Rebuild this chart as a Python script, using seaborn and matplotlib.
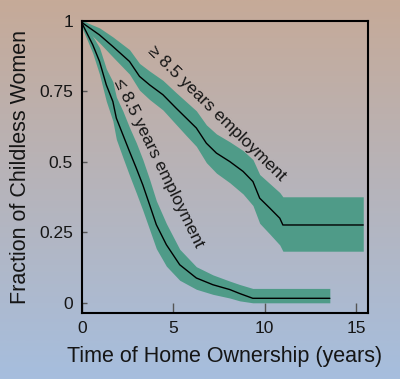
import numpy as np
import seaborn as sns
import matplotlib.pyplot as plt

# ---- data (Kaplan-Meier curves + 95% bands) ----
# >= 8.5 years employment
t_long = [0, 0.04, 0.96, 1.69, 2.60, 3.15, 3.70, 4.43, 5.16, 5.71, 6.26, 6.81,
          7.36, 8.09, 8.82, 9.36, 9.73, 10.28, 10.83, 11.0, 15.4]
s_long = [1.0, 0.992, 0.950, 0.909, 0.856, 0.803, 0.773, 0.738, 0.690, 0.655, 0.620, 0.566,
          0.531, 0.501, 0.466, 0.430, 0.371, 0.336, 0.300, 0.276, 0.276]
lo_long = [1.0, 0.980, 0.922, 0.872, 0.811, 0.754, 0.721, 0.684, 0.632, 0.593, 0.555, 0.497,
           0.460, 0.426, 0.386, 0.345, 0.282, 0.244, 0.205, 0.183, 0.183]
hi_long = [1.0, 1.0, 0.975, 0.943, 0.898, 0.849, 0.822, 0.789, 0.745, 0.713, 0.681, 0.631,
           0.599, 0.571, 0.540, 0.508, 0.455, 0.423, 0.391, 0.376, 0.376]

# <= 8.5 years employment
t_short = [0, 0.04, 0.59, 0.96, 1.33, 1.69, 1.88, 2.24, 2.60, 2.97, 3.33, 3.70,
           4.07, 4.62, 5.35, 6.26, 7.17, 8.09, 8.63, 9.35, 13.57]
s_short = [1.0, 0.986, 0.915, 0.856, 0.773, 0.714, 0.655, 0.596, 0.537, 0.478, 0.418, 0.348,
           0.277, 0.206, 0.135, 0.088, 0.064, 0.047, 0.033, 0.016, 0.016]
lo_short = [1.0, 0.97, 0.885, 0.81, 0.715, 0.645, 0.58, 0.515, 0.452, 0.39, 0.328, 0.26,
            0.192, 0.13, 0.08, 0.048, 0.03, 0.017, 0.007, 0.0, 0.0]
hi_short = [1.0, 1.0, 0.945, 0.905, 0.83, 0.784, 0.73, 0.68, 0.622, 0.568, 0.508, 0.438,
            0.362, 0.281, 0.19, 0.128, 0.099, 0.077, 0.065, 0.051, 0.051]

x_ticks = [0, 5, 10, 15]
y_ticks = [0, 0.25, 0.5, 0.75, 1]
y_ticklabels = ["0", "0.25", "0.5", "0.75", "1"]

BAND = "#4f9b88"
TXT = "#151515"

sns.set_theme(style="ticks")
plt.rcParams["font.family"] = ["Liberation Sans", "DejaVu Sans"]

fig = plt.figure(figsize=(4.0, 3.79), dpi=100)

# gradient background (tan at top -> light blue at bottom)
bg = fig.add_axes([0, 0, 1, 1], zorder=0)
top = np.array([198, 170, 152]) / 255
bot = np.array([166, 190, 222]) / 255
f = np.linspace(0, 1, 256)[:, None]
grad = (top * (1 - f) + bot * f)[:, None, :]
bg.imshow(grad, aspect="auto", extent=[0, 1, 0, 1])
bg.set_axis_off()

ax = fig.add_axes([0.205, 0.175, 0.715, 0.77], zorder=1)
ax.set_facecolor("none")

ax.fill_between(t_long, lo_long, hi_long, color=BAND, lw=0)
ax.fill_between(t_short, lo_short, hi_short, color=BAND, lw=0)
sns.lineplot(x=t_long, y=s_long, color="black", lw=1.0, ax=ax)
sns.lineplot(x=t_short, y=s_short, color="black", lw=1.0, ax=ax)

ax.text(7.36, 0.673, "\u2265 8.5 years employment", rotation=-44.3, rotation_mode="anchor",
        ha="center", va="center", fontsize=12.5, color=TXT)
ax.text(4.2, 0.495, "\u2264 8.5 years employment", rotation=-63.9, rotation_mode="anchor",
        ha="center", va="center", fontsize=12.5, color=TXT)

ax.set_xlim(0, 15.66)
ax.set_ylim(-0.035, 1.0)
ax.set_xticks(x_ticks)
ax.set_yticks(y_ticks)
ax.set_yticklabels(y_ticklabels)
ax.tick_params(axis="x", direction="in", length=7, width=1, color="#555555",
               labelsize=12.5, pad=6, labelcolor=TXT)
ax.tick_params(axis="y", direction="in", length=3.5, width=1, color="#555555",
               labelsize=12.5, pad=6.5, labelcolor=TXT)
for sp in ax.spines.values():
    sp.set_visible(True)
    sp.set_color("black")
    sp.set_linewidth(1.5)

ax.set_xlabel("Time of Home Ownership (years)", fontsize=15.5, color=TXT, labelpad=7)
ax.set_ylabel("Fraction of Childless Women", fontsize=15.5, color=TXT, labelpad=6)

fig.savefig("out.png", dpi=100)
